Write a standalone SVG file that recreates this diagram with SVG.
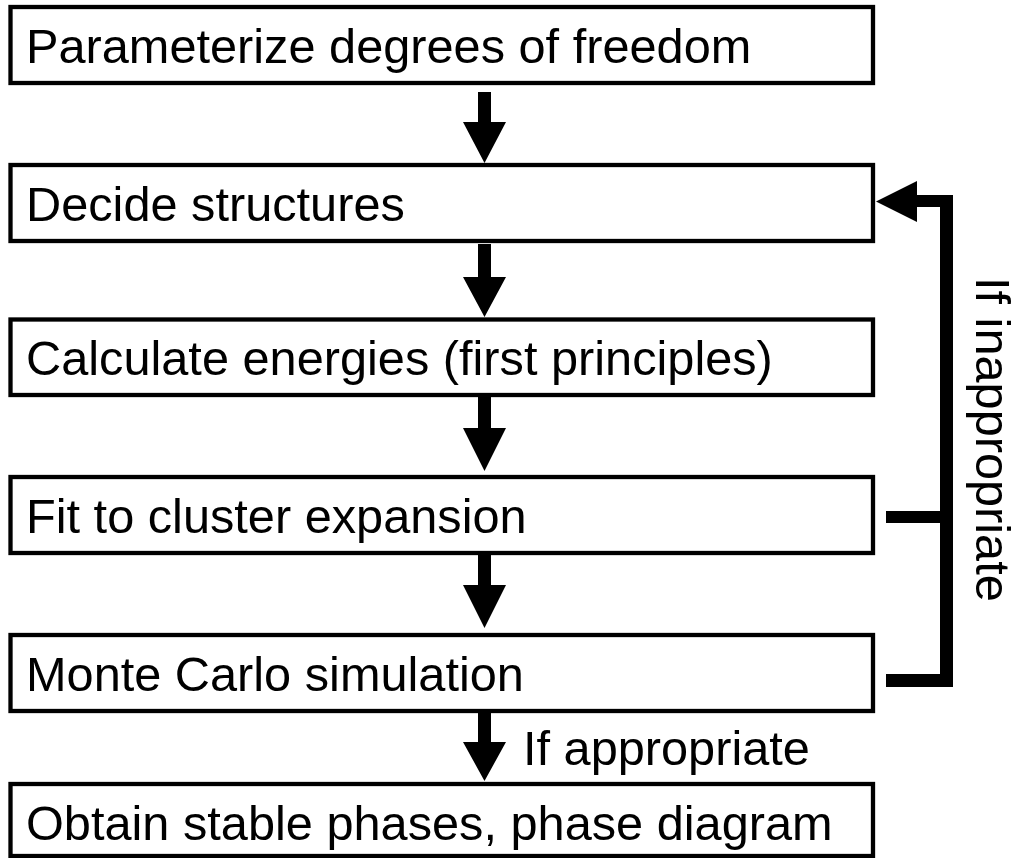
<svg xmlns="http://www.w3.org/2000/svg" width="1016" height="858" viewBox="0 0 1016 858">
<style>
.box{fill:#fff;stroke:#000;stroke-width:4.3}
.t{font-family:"Liberation Sans",Arial,sans-serif;font-size:48.7px;fill:#000}
.c{fill:#000;stroke:none}
</style>
<rect width="1016" height="858" fill="#fff"/>
<g id="n1"><rect class="box" x="10.5" y="7" width="862.5" height="76"/><text class="t" x="26" y="63">Parameterize degrees of freedom</text></g>
<g id="n2"><rect class="box" x="10.5" y="165" width="862.5" height="76"/><text class="t" x="26" y="221">Decide structures</text></g>
<g id="n3"><rect class="box" x="10.5" y="319.5" width="862.5" height="75.5"/><text class="t" x="26" y="375">Calculate energies (first principles)</text></g>
<g id="n4"><rect class="box" x="10.5" y="477" width="862.5" height="76"/><text class="t" x="26" y="533">Fit to cluster expansion</text></g>
<g id="n5"><rect class="box" x="10.5" y="635" width="862.5" height="76"/><text class="t" x="26" y="691">Monte Carlo simulation</text></g>
<g id="n6"><rect class="box" x="10.5" y="784" width="862.5" height="72"/><text class="t" x="26" y="840">Obtain stable phases, phase diagram</text></g>
<g id="connectors">
<polygon class="c" points="478,92 491,92 491,122 506,122 484.5,163 463,122 478,122"/>
<polygon class="c" points="478,244 491,244 491,277 506,277 484.5,317 463,277 478,277"/>
<polygon class="c" points="478,397 491,397 491,428 506,428 484.5,471 463,428 478,428"/>
<polygon class="c" points="478,555 491,555 491,585 506,585 484.5,628 463,585 478,585"/>
<polygon class="c" points="478,713 491,713 491,742 506,742 484.5,781 463,742 478,742"/>
<polygon class="c" points="953,195 953,687 886,687 886,674 940,674 940,523 886,523 886,511 940,511 940,207 917,207 917,222 876,201.5 917,181 917,195"/>
<text class="t" x="523" y="765">If appropriate</text>
<text class="t" transform="translate(976,277) rotate(90)">If inappropriate</text>
</g>
</svg>
